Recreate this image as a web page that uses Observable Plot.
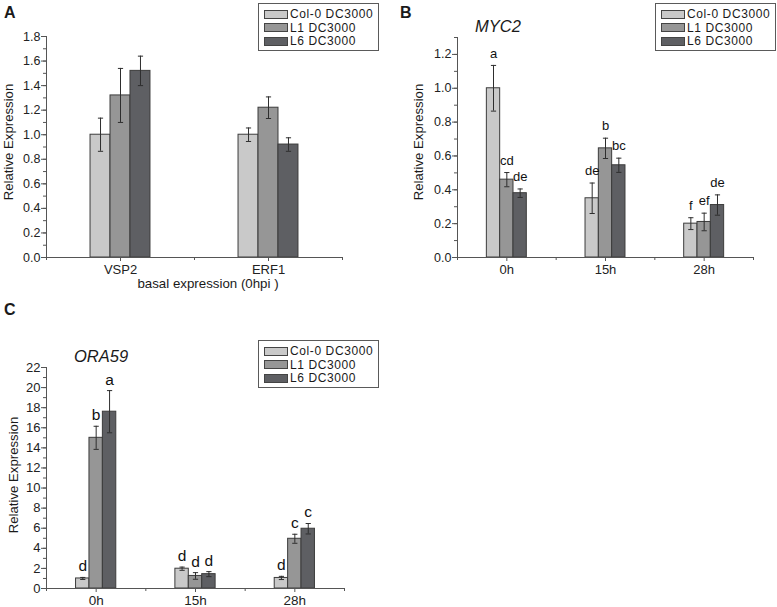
<!DOCTYPE html>
<html>
<head>
<meta charset="utf-8">
<script src="https://cdn.jsdelivr.net/npm/d3@7"></script>
<script src="https://cdn.jsdelivr.net/npm/@observablehq/plot@0.6"></script>
<style>
  body { margin: 0; background: #fff; }
  #fig { position: relative; width: 777px; height: 607px; background: #fff; overflow: hidden;
         font-family: "Liberation Sans", Arial, sans-serif; color: #1a1a1a; }
  .lbl { position: absolute; white-space: nowrap; line-height: 1; }
  .rot { transform: translate(-50%, -50%) rotate(-90deg); }
  .ctr { transform: translate(-50%, -50%); }
  .legend { position: absolute; border: 1px solid #5a5a5a; background: #fff; box-sizing: border-box; }
  .sw { position: absolute; border: 1px solid #444; box-sizing: border-box; }
  .lt { position: absolute; line-height: 1; font-size: 12px; letter-spacing: 0.6px; white-space: nowrap; transform: translateY(-50%); }
</style>
</head>
<body>
<div id="fig"></div>
<script>
// ---------- data ----------
const series = ["Col-0 DC3000", "L1 DC3000", "L6 DC3000"];
const seriesColors = ["#c9c9c9", "#969696", "#5e5f63"];

// Panel A: basal expression (0hpi)
const aGenes = ["VSP2", "ERF1"];
const aCol0 = [1.00, 1.00];
const aL1 = [1.32, 1.22];
const aL6 = [1.52, 0.92];
const aCol0Err = [0.135, 0.055];
const aL1Err = [0.22, 0.088];
const aL6Err = [0.12, 0.055];

// Panel B: MYC2
const bTimes = ["0h", "15h", "28h"];
const bCol0 = [1.00, 0.35, 0.20];
const bL1 = [0.46, 0.645, 0.21];
const bL6 = [0.38, 0.545, 0.31];
const bCol0Err = [0.135, 0.09, 0.035];
const bL1Err = [0.042, 0.06, 0.052];
const bL6Err = [0.025, 0.042, 0.06];
const bCol0Sig = ["a", "de", "f"];
const bL1Sig = ["cd", "b", "ef"];
const bL6Sig = ["de", "bc", "de"];

// Panel C: ORA59
const cTimes = ["0h", "15h", "28h"];
const cCol0 = [1.0, 1.97, 1.05];
const cL1 = [15.0, 1.25, 4.95];
const cL6 = [17.6, 1.43, 5.95];
const cCol0Err = [0.1, 0.16, 0.16];
const cL1Err = [1.15, 0.33, 0.45];
const cL6Err = [2.1, 0.25, 0.52];
const cCol0Sig = ["d", "d", "d"];
const cL1Sig = ["b", "d", "c"];
const cL6Sig = ["a", "d", "c"];

// ---------- helpers ----------
const barW = 0.135;
const cap = { draw(ctx, size) { const w = Math.sqrt(size / Math.PI); ctx.moveTo(-w, 0); ctx.lineTo(w, 0); } };

function rowsOf(groups, values, errs, sigs) {
  return groups.flatMap((g, gi) => series.map((s, si) => ({
    group: g, series: s,
    xc: gi + 1 + (si - 1) * barW,
    value: values[si][gi], err: errs[si][gi],
    sig: sigs ? sigs[si][gi] : ""
  })));
}

function panel({groups, values, errs, sigs, yMax, major, minor, fmt, width, height, mL, mR, mT, mB, sigFont, sigDy, yFont, xFont}) {
  const rows = rowsOf(groups, values, errs, sigs);
  const n = groups.length;
  const minorX = d3.range(0, 2 * n + 1).map(k => 0.5 + k * 0.5).filter(v => !Number.isInteger(v));
  const marks = [
    Plot.rect(rows, {x1: d => d.xc - barW / 2, x2: d => d.xc + barW / 2, y1: 0, y2: "value", fill: "series", stroke: "#3c3c3c", strokeWidth: 1}),
    Plot.ruleX(rows, {x: "xc", y1: d => d.value - d.err, y2: d => d.value + d.err, stroke: "#2e2e2e", strokeWidth: 1}),
    Plot.dot(rows, {x: "xc", y: d => d.value + d.err, symbol: cap, r: 2.6, stroke: "#2e2e2e", fill: "none", strokeWidth: 1}),
    Plot.dot(rows, {x: "xc", y: d => d.value - d.err, symbol: cap, r: 2.6, stroke: "#2e2e2e", fill: "none", strokeWidth: 1}),
    Plot.ruleX([0.5], {stroke: "#555"}),
    Plot.ruleY([0], {stroke: "#555"}),
    Plot.axisY({ticks: major, tickSize: 5, tickPadding: 1, tickFormat: fmt, stroke: "#555", fill: "#222", fontSize: yFont, label: null}),
    Plot.axisY({ticks: minor, tickSize: 3, tickFormat: () => "", stroke: "#555", label: null}),
    Plot.axisX({ticks: d3.range(1, n + 1), tickSize: 4, tickPadding: 3, tickFormat: i => groups[i - 1], stroke: "#555", fill: "#222", fontSize: xFont, label: null}),
    Plot.axisX({ticks: minorX, tickSize: 3, tickFormat: () => "", stroke: "#555", label: null})
  ];
  if (sigs) marks.push(Plot.text(rows, {x: "xc", y: d => d.value + d.err, text: "sig", dy: sigDy, fontSize: sigFont, fill: "#111"}));
  return Plot.plot({
    width, height, marginLeft: mL, marginRight: mR, marginTop: mT, marginBottom: mB,
    x: {domain: [0.5, n + 0.5], axis: null},
    y: {domain: [0, yMax], axis: null},
    color: {domain: series, range: seriesColors},
    style: {fontFamily: '"Liberation Sans", Arial, sans-serif', background: "transparent", color: "#222", overflow: "visible"},
    marks
  });
}

const fig = document.getElementById("fig");
function place(el, left, top) { el.style.position = "absolute"; el.style.left = left + "px"; el.style.top = top + "px"; fig.appendChild(el); }
function label(text, x, y, size, cls, extra) {
  const d = document.createElement("div");
  d.className = "lbl " + cls; d.textContent = text;
  d.style.left = x + "px"; d.style.top = y + "px"; d.style.fontSize = size + "px";
  if (extra) Object.assign(d.style, extra);
  fig.appendChild(d);
}
function legend(left, top) {
  const box = document.createElement("div");
  box.className = "legend";
  Object.assign(box.style, {left: left + "px", top: top + "px", width: "121px", height: "48px"});
  series.forEach((s, i) => {
    const sw = document.createElement("div");
    sw.className = "sw";
    Object.assign(sw.style, {left: "5px", top: (5.5 + i * 13.5) + "px", width: "24px", height: "9px", background: seriesColors[i]});
    box.appendChild(sw);
    const t = document.createElement("div");
    t.className = "lt"; t.textContent = s;
    Object.assign(t.style, {left: "31px", top: (10 + i * 13.5) + "px"});
    box.appendChild(t);
  });
  fig.appendChild(box);
}

// ---------- Panel A ----------
const pA = panel({
  groups: aGenes, values: [aCol0, aL1, aL6], errs: [aCol0Err, aL1Err, aL6Err], sigs: null,
  yMax: 1.8, major: d3.range(0, 1.81, 0.2), minor: d3.range(0, 1.81, 0.1), fmt: d3.format(".1f"),
  width: 390, height: 300, mL: 46, mR: 48, mT: 36, mB: 43, yFont: 12.5, xFont: 13
});
place(pA, 0, 0);

// ---------- Panel B ----------
const pB = panel({
  groups: bTimes, values: [bCol0, bL1, bL6], errs: [bCol0Err, bL1Err, bL6Err], sigs: [bCol0Sig, bL1Sig, bL6Sig],
  yMax: 1.3, major: d3.range(0, 1.21, 0.2), minor: d3.range(0, 1.31, 0.1), fmt: d3.format(".1f"),
  width: 387, height: 300, mL: 67, mR: 24, mT: 37, mB: 43, sigFont: 13, sigDy: -12, yFont: 12.5, xFont: 13
});
place(pB, 390, 0);

// ---------- Panel C ----------
const pC = panel({
  groups: cTimes, values: [cCol0, cL1, cL6], errs: [cCol0Err, cL1Err, cL6Err], sigs: [cCol0Sig, cL1Sig, cL6Sig],
  yMax: 22, major: d3.range(0, 22.1, 2), minor: d3.range(0, 22.1, 1), fmt: d3.format("d"),
  width: 390, height: 307, mL: 46, mR: 46, mT: 67, mB: 19, sigFont: 15.5, sigDy: -11, yFont: 13, xFont: 13.5
});
place(pC, 0, 300);

// ---------- texts & legends ----------
label("A", 4, 5, 16, "", {fontWeight: "bold"});
label("B", 400, 5, 16, "", {fontWeight: "bold"});
label("C", 4, 302, 16, "", {fontWeight: "bold"});
label("MYC2", 498, 26, 16.5, "ctr", {fontStyle: "italic"});
label("ORA59", 101, 356, 16.5, "ctr", {fontStyle: "italic"});
label("Relative Expression", 8.5, 142, 13.2, "rot");
label("Relative Expression", 418.5, 142, 13.2, "rot");
label("Relative Expression", 13.5, 475, 13.2, "rot");
label("basal expression (0hpi )", 208, 284, 13.3, "ctr");
legend(258, 3);
legend(655, 3);
legend(258, 340);
</script>
</body>
</html>
